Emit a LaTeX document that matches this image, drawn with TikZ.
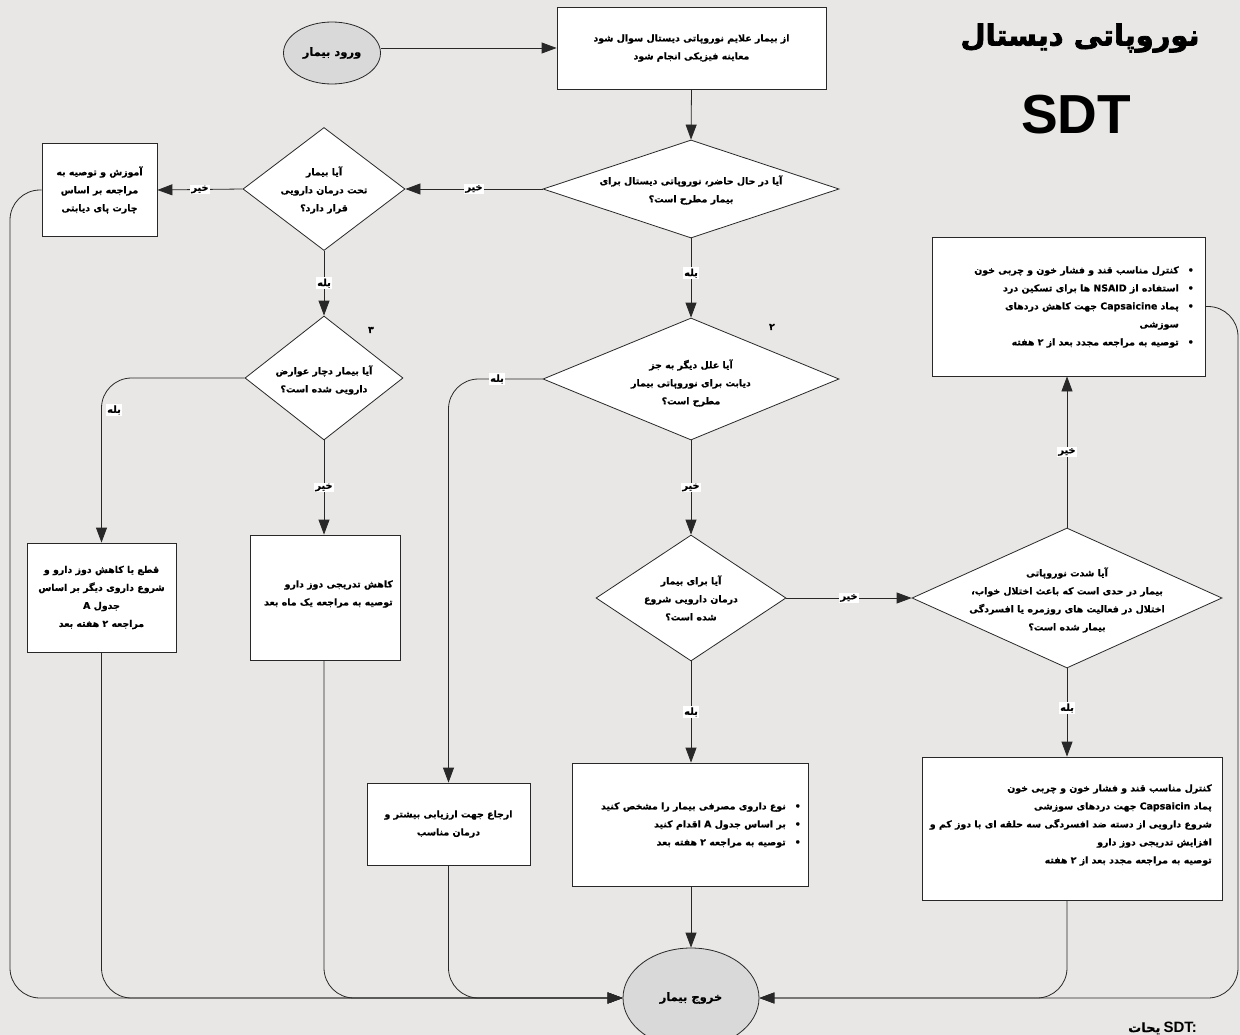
\documentclass[tikz,border=0pt]{standalone}
\usepackage{fontspec}
\setmainfont{DejaVu Sans}
\newfontfamily\arfont[Script=Arabic,FakeBold=0.6]{DejaVu Sans}
\newfontfamily\artitle[Script=Arabic,FakeBold=2.5]{DejaVu Sans}
\newfontfamily\lsans{Liberation Sans}
\TeXXeTstate=1
\usetikzlibrary{shapes.geometric,arrows.meta,calc}
\newcommand{\rl}[1]{\beginR #1\endR}
\definecolor{bgc}{RGB}{232,231,229}
\definecolor{ovalc}{RGB}{217,217,217}
\definecolor{lnc}{RGB}{40,40,40}
\begin{document}
\begin{tikzpicture}[x=1pt,y=-1pt,
  txt/.style={font=\arfont\bfseries\fontsize{9.4}{18}\selectfont, align=center, inner sep=0pt},
  box/.style={draw=lnc, fill=white, line width=0.8pt, inner sep=0pt},
  dia/.style={diamond, draw=lnc, fill=white, line width=0.8pt, inner sep=0pt},
  oval/.style={ellipse, draw=lnc, fill=ovalc, line width=0.8pt, inner sep=0pt, font=\arfont\bfseries\fontsize{11.5}{13}\selectfont},
  conn/.style={draw=lnc, line width=0.8pt},
  arr/.style={conn, -{Triangle[length=15pt,width=11pt]}},
  lbl/.style={fill=white, inner sep=1.2pt, font=\arfont\bfseries\fontsize{9.8}{11}\selectfont},
  rc/.style={rounded corners=30pt}]
\fill[bgc] (0,0) rectangle (1240,1035);
\useasboundingbox (0,0) rectangle (1240,1035);

% title
\node[font=\artitle\bfseries\fontsize{29}{34}\selectfont] (title) at (1080,38) {\rl{نوروپاتی دیستال}};
\node[font=\lsans\bfseries\fontsize{55}{60}\selectfont] (sdt) at (1076,115) {SDT};

% start / exit
\node[oval, minimum width=97pt, minimum height=62pt] (start) at (332,53) {\rl{ورود بیمار}};
\node[oval, minimum width=136pt, minimum height=100pt] (exit) at (691,998) {\rl{خروج بیمار}};

% boxes
\node[box, txt, minimum width=269pt, minimum height=82pt] (b1) at (691.5,48)
  {\rl{از بیمار علایم نوروپاتی دیستال سوال شود}\\\rl{معاینه فیزیکی انجام شود}};
\node[box, txt, minimum width=115pt, minimum height=93pt] (b2) at (99.5,190)
  {\rl{آموزش و توصیه به}\\\rl{مراجعه بر اساس}\\\rl{چارت پای دیابتی}};
\node[box, minimum width=273pt, minimum height=139pt] (b6) at (1068.5,306.5) {};
\node[txt, align=right, anchor=east] (b6t) at (1194,307)
  {\rl{کنترل مناسب قند و فشار خون و چربی خون}\hspace{9pt}•\\
   \rl{استفاده از NSAID ها برای تسکین درد}\hspace{9pt}•\\
   \rl{پماد Capsaicine جهت کاهش دردهای}\hspace{9pt}•\\
   \rl{سوزشی}\hspace{9pt}\phantom{•}\\
   \rl{توصیه به مراجعه مجدد بعد از ۲ هفته}\hspace{9pt}•};
\node[box, minimum width=300pt, minimum height=143pt] (b7) at (1072,828.5) {};
\node[txt, align=right, anchor=east] (b7t) at (1212,825)
  {\rl{کنترل مناسب قند و فشار خون و چربی خون}\\
   \rl{پماد Capsaicin جهت دردهای سوزشی}\\
   \rl{شروع دارویی از دسته ضد افسردگی سه حلقه ای با دوز کم و}\\
   \rl{افزایش تدریجی دوز دارو}\\
   \rl{توصیه به مراجعه مجدد بعد از ۲ هفته}};
\node[box, minimum width=236pt, minimum height=123pt] (b8) at (690,824.5) {};
\node[txt, align=right, anchor=east] (b8t) at (801,825)
  {\rl{نوع داروی مصرفی بیمار را مشخص کنید}\hspace{9pt}•\\
   \rl{بر اساس جدول A اقدام کنید}\hspace{9pt}•\\
   \rl{توصیه به مراجعه ۲ هفته بعد}\hspace{9pt}•};
\node[box, txt, minimum width=163pt, minimum height=82pt] (b9) at (448.5,824)
  {\rl{ارجاع جهت ارزیابی بیشتر و}\\\rl{درمان مناسب}};
\node[box, txt, minimum width=149pt, minimum height=109pt] (b10) at (101.5,597.5)
  {\rl{قطع یا کاهش دوز دارو و}\\\rl{شروع داروی دیگر بر اساس}\\\rl{جدول A}\\\rl{مراجعه ۲ هفته بعد}};
\node[box, minimum width=150pt, minimum height=125pt] (b11) at (325,597.5) {};
\node[txt, align=right, anchor=east] (b11t) at (393,594)
  {\rl{کاهش تدریجی دوز دارو}\\\rl{توصیه به مراجعه یک ماه بعد}};

% diamonds
\node[dia, minimum width=296pt, minimum height=98pt] (d1) at (691,189) {};
\node[txt] (d1t) at (691,190) {\rl{آیا در حال حاضر، نوروپاتی دیستال برای}\\\rl{بیمار مطرح است؟}};
\node[dia, minimum width=162pt, minimum height=123pt] (d2) at (324,189) {};
\node[txt] (d2t) at (324,190) {\rl{آیا بیمار}\\\rl{تحت درمان دارویی}\\\rl{قرار دارد؟}};
\node[dia, minimum width=158pt, minimum height=124pt] (d3) at (324,378) {};
\node[txt] (d3t) at (324,380) {\rl{آیا بیمار دچار عوارض}\\\rl{دارویی شده است؟}};
\node[dia, minimum width=296pt, minimum height=122pt] (d4) at (691,379) {};
\node[txt] (d4t) at (691,383) {\rl{آیا علل دیگر به جز}\\\rl{دیابت برای نوروپاتی بیمار}\\\rl{مطرح است؟}};
\node[dia, minimum width=190pt, minimum height=126pt] (d5) at (691,598) {};
\node[txt] (d5t) at (691,598) {\rl{آیا برای بیمار}\\\rl{درمان دارویی شروع}\\\rl{شده است؟}};
\node[dia, minimum width=310pt, minimum height=140pt] (d6) at (1067,598) {};
\node[txt] (d6t) at (1067,600) {\rl{آیا شدت نوروپاتی}\\\rl{بیمار در حدی است که باعث اختلال خواب،}\\\rl{اختلال در فعالیت های روزمره یا افسردگی}\\\rl{بیمار شده است؟}};

\node[txt] (n2) at (772,327) {۲};
\node[txt] (n3) at (371,330) {۳};

% connectors
\draw[arr] (start.east |- b1.west) -- (b1.west);
\draw[arr] (b1.south) -- (d1.north);
\draw[arr] (d1.west) -- node[lbl] (l1) {\rl{خیر}} (d2.east);
\draw[arr] (d2.west) -- node[lbl] (l2) {\rl{خیر}} (b2.east);
\draw[arr] (d1.south) -- node[lbl, pos=0.44] (l3) {\rl{بله}} (d4.north);
\draw[arr] (d2.south) -- node[lbl] (l4) {\rl{بله}} (d3.north);
\draw[arr] (d3.south) -- node[lbl] (l5) {\rl{خیر}} (d3.south |- b11.north);
\draw[arr] (d4.south) -- node[lbl] (l6) {\rl{خیر}} (d5.north);
\draw[arr] (d5.east) -- node[lbl] (l7) {\rl{خیر}} (d6.west);
\draw[arr] (d6.north) -- node[lbl] (l8) {\rl{خیر}} (d6.north |- b6.south);
\draw[arr] (d6.south) -- node[lbl, pos=0.45] (l9) {\rl{بله}} (d6.south |- b7.north);
\draw[arr] (d5.south) -- node[lbl] (l10) {\rl{بله}} (d5.south |- b8.north);
\draw[arr] (d5.south |- b8.south) -- (exit.north);
\draw[arr, rc] (d4.west) -| (b9.north);
\node[lbl] (l11) at (497,379) {\rl{بله}};
\draw[arr, rc] (d3.west) -| (b10.north);
\node[lbl] (l12) at (114,410) {\rl{بله}};

\coordinate (lcorner) at (10,998);
\coordinate (rcorner) at (1238,998);
\draw[arr, rc] (b2.west) -| (lcorner) -- (exit.west);
\draw[arr, rc] (b10.south) |- (exit.west);
\draw[arr, rc] (d3.south |- b11.south) |- (exit.west);
\draw[arr, rc] (b9.south) |- (exit.west);
\draw[arr, rc] (d6.south |- b7.south) |- (exit.east);
\draw[arr, rc] (b6.east) -| (rcorner) -- (exit.east);

\node[anchor=west, inner sep=0pt] (note) at (1128,1028) {{\arfont\bfseries\fontsize{13}{14}\selectfont یحات} {\lsans\bfseries\fontsize{15}{16}\selectfont SDT:}};
\end{tikzpicture}
\end{document}
